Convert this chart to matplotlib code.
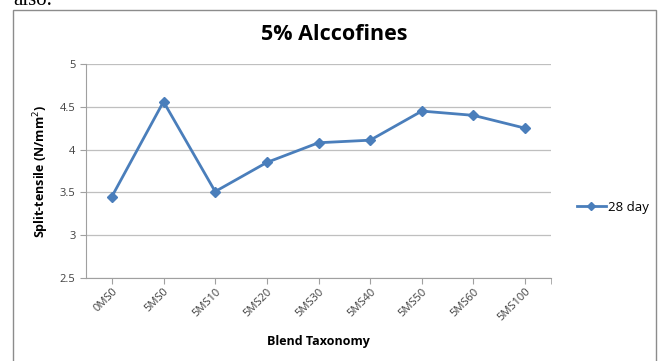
import matplotlib
matplotlib.use("Agg")
import matplotlib.pyplot as plt
from matplotlib.patches import Rectangle

blends = ["0MS0", "5MS0", "5MS10", "5MS20", "5MS30", "5MS40", "5MS50", "5MS60", "5MS100"]
day28 = [3.45, 4.56, 3.51, 3.85, 4.08, 4.11, 4.45, 4.40, 4.25]
yticks = [2.5, 3, 3.5, 4, 4.5, 5]

blue = "#4A7EBB"
grid = "#bfbfbf"
axc = "#a0a0a0"
txt = "#404040"
fam = ["Open Sans", "DejaVu Sans"]

fig = plt.figure(figsize=(6.59, 3.61), dpi=100)
# outer chart frame (runs off the bottom) and the clipped text above it
fig.patches.append(Rectangle((13 / 659, -10 / 361), 643 / 659, 361 / 361, transform=fig.transFigure,
                             fill=False, edgecolor="#8c8c8c", lw=1.0))
fig.text(13 / 659, 1 - 5 / 361, "also.", family="Liberation Serif", fontsize=15, color="black", va="baseline")

ax = fig.add_axes([86 / 659, 1 - 278 / 361, 465 / 659, 214 / 361])
x = range(len(blends))
ax.plot(x, day28, color=blue, lw=2, marker="D", ms=5.5, label="28 day", zorder=3)
ax.set_xlim(-0.5, len(blends) - 0.5)
ax.set_ylim(2.5, 5)
ax.set_yticks(yticks)
ax.set_yticklabels([f"{v:g}" for v in yticks], family=fam, fontsize=8, color=txt)
ax.set_xticks(list(x))
ax.set_xticks([len(blends) - 0.5], minor=True)
ax.set_xticklabels(blends, rotation=45, ha="right", rotation_mode="anchor", family=fam, fontsize=8, color=txt)
ax.grid(axis="y", color=grid, lw=0.9)
ax.set_axisbelow(True)
for s in ("top", "right"):
    ax.spines[s].set_visible(False)
for s in ("left", "bottom"):
    ax.spines[s].set_color(axc)
ax.tick_params(axis="both", which="both", color=axc, length=4)
ax.tick_params(axis="x", pad=2)

# chart title is centred on the whole frame, not the plot area
fig.text(334 / 659, 1 - 35 / 361, "5% Alccofines", family=fam, fontsize=15.5, fontweight="bold",
         ha="center", va="center")
ax.set_xlabel("Blend Taxonomy", family=fam, fontsize=9, fontweight="bold", labelpad=8)
ax.set_ylabel("Split-tensile (N/mm$^2$)", family=fam, fontsize=9, fontweight="bold", labelpad=6)

ax.legend(loc="center left", bbox_to_anchor=(1.03, 0.33), frameon=False, prop={"family": fam, "size": 9.5},
          handlelength=2.2, handletextpad=0.2, markerscale=0.7)

fig.savefig("out.png", dpi=100)
